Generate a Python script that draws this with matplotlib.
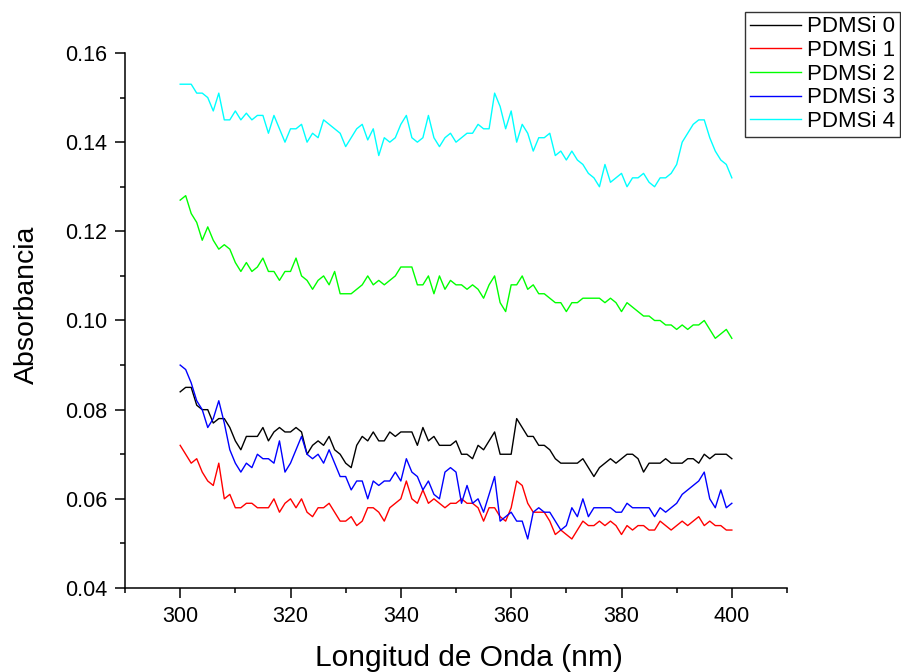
import matplotlib
matplotlib.use('Agg')
import matplotlib.pyplot as plt
import numpy as np
from matplotlib.ticker import MultipleLocator

plt.rcParams['font.family'] = ['Liberation Sans', 'DejaVu Sans']

# wavelength grid (nm), 1 nm steps
wavelength = np.arange(300, 401, 1)

pdmsi_0 = [0.084, 0.085, 0.085, 0.081, 0.080, 0.080, 0.077, 0.078, 0.078, 0.076,
           0.073, 0.071, 0.074, 0.074, 0.074, 0.076, 0.073, 0.075, 0.076, 0.075,
           0.075, 0.076, 0.075, 0.070, 0.072, 0.073, 0.072, 0.074, 0.071, 0.070,
           0.068, 0.067, 0.072, 0.074, 0.073, 0.075, 0.073, 0.073, 0.075, 0.074,
           0.075, 0.075, 0.075, 0.072, 0.076, 0.073, 0.074, 0.072, 0.072, 0.072,
           0.073, 0.070, 0.070, 0.069, 0.072, 0.071, 0.073, 0.075, 0.070, 0.070,
           0.070, 0.078, 0.076, 0.074, 0.074, 0.072, 0.072, 0.071, 0.069, 0.068,
           0.068, 0.068, 0.068, 0.069, 0.067, 0.065, 0.067, 0.068, 0.069, 0.068,
           0.069, 0.070, 0.070, 0.069, 0.066, 0.068, 0.068, 0.068, 0.069, 0.068,
           0.068, 0.068, 0.069, 0.069, 0.068, 0.070, 0.069, 0.070, 0.070, 0.070,
           0.069]

pdmsi_1 = [0.072, 0.070, 0.068, 0.069, 0.066, 0.064, 0.063, 0.068, 0.060, 0.061,
           0.058, 0.058, 0.059, 0.059, 0.058, 0.058, 0.058, 0.060, 0.057, 0.059,
           0.060, 0.058, 0.060, 0.057, 0.056, 0.058, 0.058, 0.059, 0.057, 0.055,
           0.055, 0.056, 0.054, 0.055, 0.058, 0.058, 0.057, 0.055, 0.058, 0.059,
           0.060, 0.064, 0.060, 0.059, 0.062, 0.059, 0.060, 0.059, 0.058, 0.059,
           0.059, 0.060, 0.059, 0.059, 0.058, 0.055, 0.058, 0.058, 0.056, 0.055,
           0.058, 0.064, 0.063, 0.059, 0.057, 0.057, 0.057, 0.055, 0.052, 0.053,
           0.052, 0.051, 0.053, 0.055, 0.054, 0.054, 0.055, 0.054, 0.055, 0.054,
           0.052, 0.054, 0.053, 0.054, 0.054, 0.053, 0.053, 0.055, 0.054, 0.053,
           0.054, 0.055, 0.054, 0.055, 0.056, 0.054, 0.055, 0.054, 0.054, 0.053,
           0.053]

pdmsi_2 = [0.127, 0.128, 0.124, 0.122, 0.118, 0.121, 0.118, 0.116, 0.117, 0.116,
           0.113, 0.111, 0.113, 0.111, 0.112, 0.114, 0.111, 0.111, 0.109, 0.111,
           0.111, 0.114, 0.110, 0.109, 0.107, 0.109, 0.110, 0.108, 0.111, 0.106,
           0.106, 0.106, 0.107, 0.108, 0.110, 0.108, 0.109, 0.108, 0.109, 0.110,
           0.112, 0.112, 0.112, 0.108, 0.108, 0.110, 0.106, 0.110, 0.107, 0.109,
           0.108, 0.108, 0.107, 0.108, 0.107, 0.105, 0.108, 0.110, 0.104, 0.102,
           0.108, 0.108, 0.110, 0.107, 0.108, 0.106, 0.106, 0.105, 0.104, 0.104,
           0.102, 0.104, 0.104, 0.105, 0.105, 0.105, 0.105, 0.104, 0.105, 0.104,
           0.102, 0.104, 0.103, 0.102, 0.101, 0.101, 0.100, 0.100, 0.099, 0.099,
           0.098, 0.099, 0.098, 0.099, 0.099, 0.100, 0.098, 0.096, 0.097, 0.098,
           0.096]

pdmsi_3 = [0.090, 0.089, 0.086, 0.082, 0.080, 0.076, 0.078, 0.082, 0.077, 0.071,
           0.068, 0.066, 0.068, 0.067, 0.070, 0.069, 0.069, 0.068, 0.073, 0.066,
           0.068, 0.071, 0.074, 0.070, 0.069, 0.070, 0.068, 0.071, 0.068, 0.065,
           0.065, 0.062, 0.064, 0.064, 0.060, 0.064, 0.063, 0.064, 0.064, 0.066,
           0.064, 0.069, 0.066, 0.065, 0.062, 0.064, 0.061, 0.060, 0.066, 0.067,
           0.066, 0.059, 0.063, 0.059, 0.060, 0.057, 0.061, 0.065, 0.055, 0.056,
           0.057, 0.055, 0.055, 0.051, 0.057, 0.058, 0.057, 0.057, 0.055, 0.053,
           0.054, 0.058, 0.056, 0.060, 0.056, 0.058, 0.058, 0.058, 0.058, 0.057,
           0.057, 0.059, 0.058, 0.058, 0.058, 0.058, 0.056, 0.058, 0.057, 0.058,
           0.059, 0.061, 0.062, 0.063, 0.064, 0.066, 0.060, 0.058, 0.062, 0.058,
           0.059]

pdmsi_4 = [0.153, 0.153, 0.153, 0.151, 0.151, 0.150, 0.147, 0.151, 0.145, 0.145,
           0.147, 0.145, 0.1465, 0.145, 0.146, 0.146, 0.142, 0.146, 0.143, 0.140,
           0.143, 0.143, 0.144, 0.140, 0.142, 0.141, 0.145, 0.144, 0.143, 0.142,
           0.139, 0.141, 0.143, 0.144, 0.1405, 0.143, 0.137, 0.141, 0.140, 0.141,
           0.144, 0.146, 0.141, 0.140, 0.141, 0.146, 0.141, 0.139, 0.141, 0.142,
           0.140, 0.141, 0.142, 0.142, 0.144, 0.143, 0.143, 0.151, 0.148, 0.143,
           0.147, 0.140, 0.144, 0.142, 0.138, 0.141, 0.141, 0.142, 0.137, 0.138,
           0.136, 0.138, 0.136, 0.135, 0.133, 0.132, 0.130, 0.135, 0.131, 0.132,
           0.133, 0.130, 0.132, 0.132, 0.133, 0.131, 0.130, 0.132, 0.132, 0.133,
           0.135, 0.140, 0.142, 0.144, 0.145, 0.145, 0.141, 0.138, 0.136, 0.135,
           0.132]

series = [pdmsi_0, pdmsi_1, pdmsi_2, pdmsi_3, pdmsi_4]
labels = ['PDMSi 0', 'PDMSi 1', 'PDMSi 2', 'PDMSi 3', 'PDMSi 4']
colors = ['#000000', '#ff0000', '#00ff00', '#0000ff', '#00ffff']

fig = plt.figure(figsize=(9.01, 6.72), dpi=100)
ax = fig.add_axes([125 / 901, 1 - 588 / 672, 662 / 901, 535 / 672])

for y, lab, c in zip(series, labels, colors):
    ax.plot(wavelength, y, color=c, lw=1.0, label=lab)

ax.set_xlim(290, 410)
ax.set_ylim(0.04, 0.16)
ax.xaxis.set_major_locator(MultipleLocator(20))
ax.xaxis.set_minor_locator(MultipleLocator(10))
ax.yaxis.set_major_locator(MultipleLocator(0.02))
ax.yaxis.set_minor_locator(MultipleLocator(0.01))
ax.yaxis.set_major_formatter(plt.FormatStrFormatter('%.2f'))

for side in ['top', 'right']:
    ax.spines[side].set_visible(False)
for side in ['left', 'bottom']:
    ax.spines[side].set_linewidth(1.1)

ax.tick_params(which='major', direction='out', length=7, width=1.1, labelsize=15.5, pad=6)
ax.tick_params(which='minor', direction='out', length=3.6, width=1.1)

ax.set_xlabel('Longitud de Onda (nm)', fontsize=21.5)
ax.set_ylabel('Absorbancia', fontsize=20.5)
ax.xaxis.set_label_coords(0.52, -0.105)
ax.yaxis.set_label_coords(-0.128, 0.53)

leg = fig.legend(loc='upper right', bbox_to_anchor=(900 / 901, 1 - 12 / 672),
                 fontsize=16, frameon=True, fancybox=False, borderaxespad=0,
                 handlelength=2.3, handletextpad=0.3, labelspacing=0.12,
                 borderpad=0.2)
leg.get_frame().set_edgecolor('black')
leg.get_frame().set_linewidth(1.0)

plt.savefig('out.png', dpi=100)
plt.close()
